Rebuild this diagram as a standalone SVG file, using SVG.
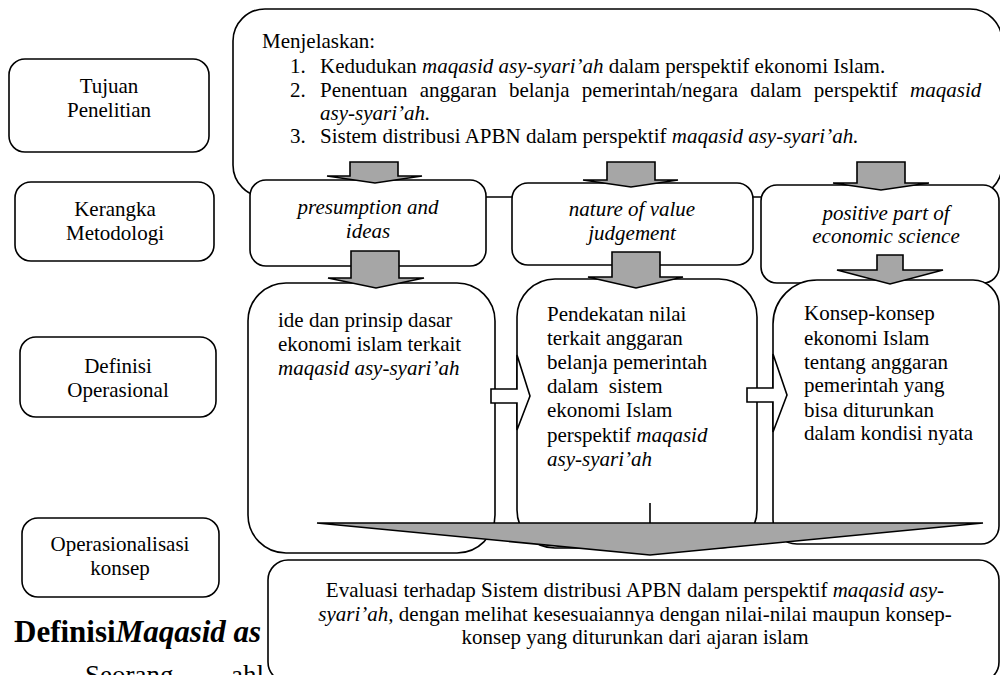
<svg xmlns="http://www.w3.org/2000/svg" width="1000" height="675" viewBox="0 0 1000 675">
<style>
  .box{fill:#fff;stroke:#000;stroke-width:1.6}
  .ga{fill:#a6a6a6;stroke:#000;stroke-width:1.6;stroke-linejoin:miter}
  .wa{fill:#fff;stroke:#000;stroke-width:1.6}
  text{font-family:"Liberation Serif","Times New Roman",serif;font-size:21px;fill:#000}
  .c{text-anchor:middle}
  .i{font-style:italic}
  .h{font-size:31px;font-weight:bold}
  .b{font-size:27px}
</style>
<rect width="1000" height="675" fill="#fff"/>

<g id="tujuan-penelitian">
  <rect class="box" x="9" y="59" width="200" height="93" rx="16"/>
  <text class="c" x="109" y="93">Tujuan</text>
  <text class="c" x="109" y="117">Penelitian</text>
</g>
<g id="kerangka-metodologi">
  <rect class="box" x="15" y="182" width="199" height="79" rx="16"/>
  <text class="c" x="115" y="216">Kerangka</text>
  <text class="c" x="115" y="240">Metodologi</text>
</g>
<g id="definisi-operasional">
  <rect class="box" x="20" y="337" width="196" height="80" rx="16"/>
  <text class="c" x="118" y="373">Definisi</text>
  <text class="c" x="118" y="397">Operasional</text>
</g>
<g id="operasionalisasi-konsep">
  <rect class="box" x="22" y="518" width="197" height="79" rx="16"/>
  <text class="c" x="120" y="551">Operasionalisasi</text>
  <text class="c" x="120" y="575">konsep</text>
</g>

<g id="heading">
  <text class="h" x="14" y="642">Definisi<tspan class="i">Maqasid as</tspan></text>
  <text class="b" x="85" y="684">Seorang<tspan x="231">ahl</tspan></text>
</g>

<g id="tujuan-box">
  <rect class="box" x="233" y="9" width="769" height="188" rx="32"/>
  <text x="262" y="48">Menjelaskan:</text>
  <text x="290" y="73">1.</text>
  <text x="320" y="73">Kedudukan <tspan class="i">maqasid asy-syari’ah</tspan> dalam perspektif ekonomi Islam.</text>
  <text x="290" y="97">2.</text>
  <text x="320" y="97" word-spacing="7">Penentuan anggaran belanja pemerintah/negara dalam perspektif <tspan class="i">maqasid</tspan></text>
  <text class="i" x="320" y="120">asy-syari’ah.</text>
  <text x="290" y="143">3.</text>
  <text x="320" y="143">Sistem distribusi APBN dalam perspektif <tspan class="i">maqasid asy-syari’ah.</tspan></text>
</g>

<g id="presumption">
  <rect class="box" x="250" y="180" width="236" height="86" rx="16"/>
  <text class="c i" x="368" y="214">presumption and</text>
  <text class="c i" x="368" y="238">ideas</text>
</g>
<g id="nature">
  <rect class="box" x="512" y="183" width="241" height="82" rx="16"/>
  <text class="c i" x="632" y="216">nature of value</text>
  <text class="c i" x="632" y="240">judgement</text>
</g>
<g id="positive">
  <rect class="box" x="761" y="185" width="238" height="98" rx="16"/>
  <text class="c i" x="886" y="220">positive part of</text>
  <text class="c i" x="886" y="243">economic science</text>
</g>

<g id="ide">
  <rect class="box" x="248" y="283" width="247" height="270" rx="38"/>
  <text x="278" y="327">ide dan prinsip dasar</text>
  <text x="278" y="351">ekonomi islam terkait</text>
  <text class="i" x="278" y="375">maqasid asy-syari’ah</text>
</g>
<g id="pendekatan">
  <rect class="box" x="517" y="279" width="240" height="269" rx="38"/>
  <text x="547" y="321">Pendekatan nilai</text>
  <text x="547" y="345">terkait anggaran</text>
  <text x="547" y="369">belanja pemerintah</text>
  <text x="547" y="393" xml:space="preserve">dalam  sistem</text>
  <text x="547" y="417">ekonomi Islam</text>
  <text x="547" y="442">perspektif <tspan class="i">maqasid</tspan></text>
  <text class="i" x="547" y="466">asy-syari’ah</text>
</g>
<g id="konsep">
  <path class="box" d="M817,280 H973 A26,26 0 0 1 999,306 V526 A18,18 0 0 1 981,544 H797 A24,24 0 0 1 773,520 V324 A44,44 0 0 1 817,280 Z"/>
  <text x="804" y="320">Konsep-konsep</text>
  <text x="804" y="345">ekonomi Islam</text>
  <text x="804" y="369">tentang anggaran</text>
  <text x="804" y="392">pemerintah yang</text>
  <text x="804" y="417">bisa diturunkan</text>
  <text x="804" y="440">dalam kondisi nyata</text>
</g>

<g id="connectors">
  <path class="ga" d="M350,162 H398 V176 H422 L375,183 L327,176 H350 Z"/>
  <path class="ga" d="M607,162 H655 V180 H678 L631,187 L583,180 H607 Z"/>
  <path class="ga" d="M857,162 H905 V183 H929 L881,190 L833,183 H857 Z"/>
  <path class="ga" d="M351,251 H399 V278 H424 L376,288 L328,278 H351 Z"/>
  <path class="ga" d="M612,252 H660 V277 H683 L636,288 L588,277 H612 Z"/>
  <path class="ga" d="M877,255 H903 V270 H943 L890,284 L837,270 H877 Z"/>
  <path class="wa" d="M491,389 H517 V355 L530,396 L517,430 V403 H491 Z"/>
  <path class="wa" d="M747,388 H773 V354 L787,395 L773,432 V402 H747 Z"/>
  <line x1="650" y1="503" x2="650" y2="523" stroke="#000" stroke-width="1.6"/>
  <path class="ga" d="M317,523 H983 L650,555 Z"/>
</g>

<g id="evaluasi">
  <rect class="box" x="268" y="560" width="731" height="122" rx="20"/>
  <text class="c" x="635" y="597">Evaluasi terhadap Sistem distribusi APBN dalam perspektif <tspan class="i">maqasid asy-</tspan></text>
  <text class="c" x="635" y="621"><tspan class="i">syari’ah,</tspan> dengan melihat kesesuaiannya dengan nilai-nilai maupun konsep-</text>
  <text class="c" x="635" y="644">konsep yang diturunkan dari ajaran islam</text>
</g>
</svg>
